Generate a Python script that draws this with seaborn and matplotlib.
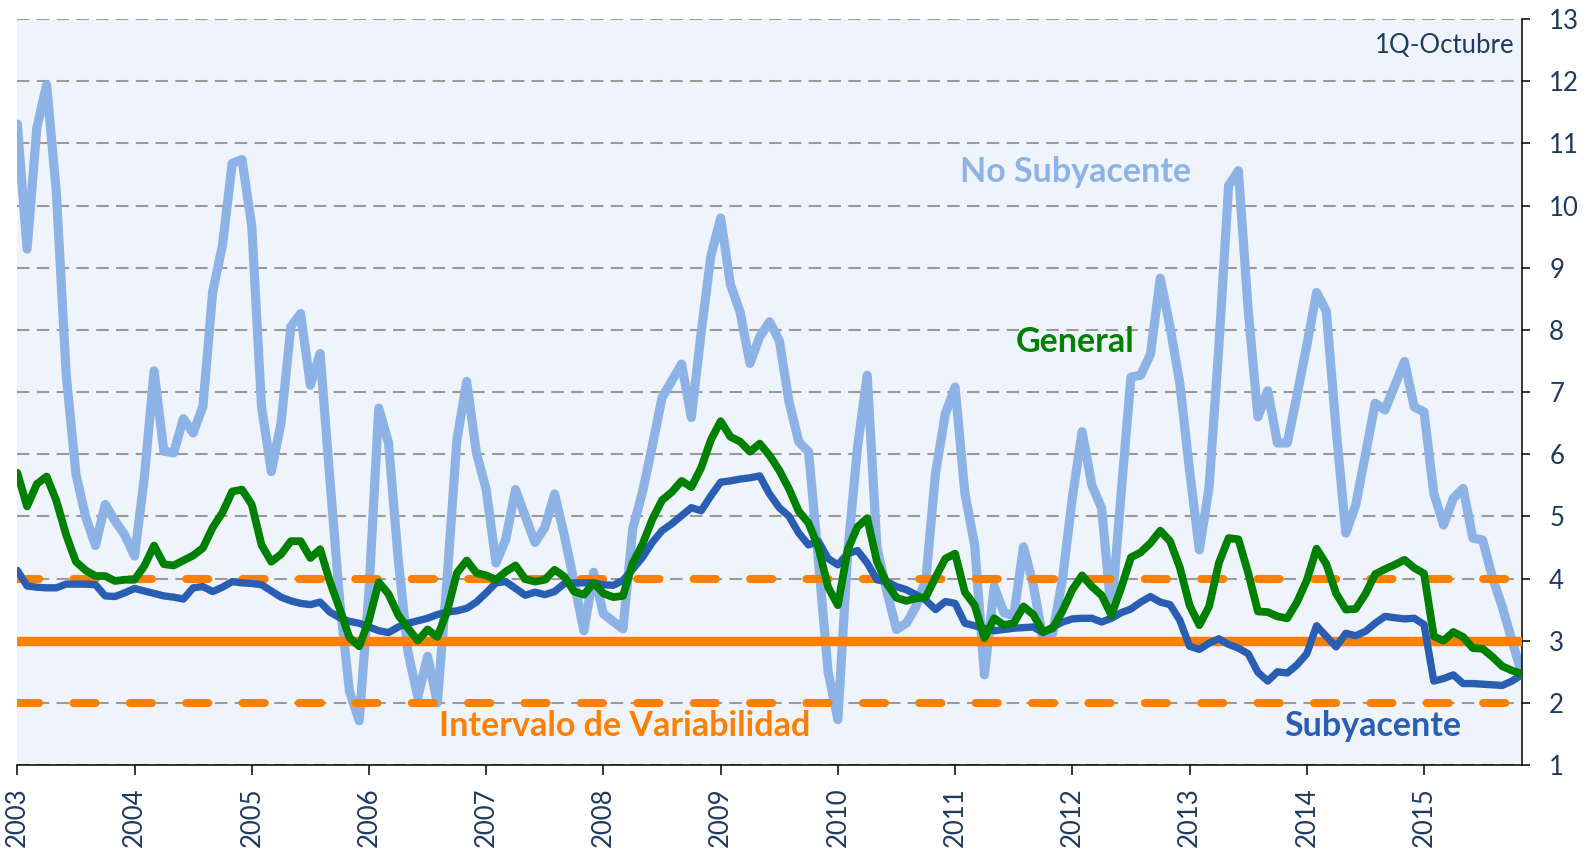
import numpy as np
import pandas as pd
import seaborn as sns
import matplotlib.pyplot as plt


# -----------------------------
# DATA  (annual inflation, %, dic-2002 .. 1Q oct-2015)
# -----------------------------
general = [
    5.70,
    5.16, 5.52, 5.64, 5.25, 4.70, 4.27, 4.13, 4.04, 4.04, 3.96, 3.98, 3.98,
    4.20, 4.53, 4.23, 4.21, 4.29, 4.37, 4.49, 4.82, 5.06, 5.40, 5.43, 5.19,
    4.54, 4.27, 4.39, 4.60, 4.60, 4.33, 4.47, 3.95, 3.51, 3.05, 2.91, 3.33,
    3.94, 3.75, 3.41, 3.20, 3.00, 3.18, 3.06, 3.47, 4.09, 4.29, 4.09, 4.05,
    3.98, 4.11, 4.21, 3.99, 3.95, 3.98, 4.14, 4.03, 3.79, 3.74, 3.93, 3.76,
    3.70, 3.72, 4.25, 4.55, 4.95, 5.26, 5.39, 5.57, 5.47, 5.78, 6.23, 6.53,
    6.28, 6.20, 6.04, 6.17, 5.98, 5.74, 5.44, 5.08, 4.89, 4.50, 3.86, 3.57,
    4.46, 4.83, 4.97, 4.27, 3.92, 3.69, 3.64, 3.68, 3.70, 4.02, 4.32, 4.40,
    3.78, 3.57, 3.04, 3.36, 3.25, 3.28, 3.55, 3.42, 3.14, 3.20, 3.48, 3.82,
    4.05, 3.87, 3.73, 3.41, 3.85, 4.34, 4.42, 4.57, 4.77, 4.60, 4.18, 3.57,
    3.25, 3.55, 4.25, 4.65, 4.63, 4.09, 3.47, 3.46, 3.39, 3.36, 3.62, 3.97,
    4.48, 4.23, 3.76, 3.50, 3.51, 3.75, 4.07, 4.15, 4.22, 4.30, 4.17, 4.08,
    3.07, 3.00, 3.14, 3.06, 2.88, 2.87, 2.74, 2.59, 2.52, 2.47,
]

subyacente = [
    4.13,
    3.88, 3.86, 3.85, 3.85, 3.91, 3.91, 3.91, 3.90, 3.72, 3.71, 3.77, 3.84,
    3.80, 3.76, 3.72, 3.70, 3.67, 3.85, 3.87, 3.79, 3.86, 3.95, 3.93, 3.92,
    3.90, 3.80, 3.70, 3.64, 3.60, 3.58, 3.62, 3.46, 3.37, 3.31, 3.28, 3.22,
    3.16, 3.13, 3.22, 3.28, 3.32, 3.36, 3.42, 3.46, 3.48, 3.52, 3.62, 3.77,
    3.93, 3.95, 3.84, 3.73, 3.78, 3.74, 3.79, 3.92, 3.93, 3.93, 3.93, 3.90,
    3.89, 3.97, 4.15, 4.34, 4.58, 4.77, 4.88, 5.01, 5.14, 5.09, 5.33, 5.55,
    5.57, 5.60, 5.62, 5.65, 5.36, 5.14, 5.00, 4.73, 4.54, 4.60, 4.32, 4.22,
    4.40, 4.45, 4.25, 3.98, 3.95, 3.87, 3.82, 3.74, 3.65, 3.50, 3.63, 3.60,
    3.28, 3.24, 3.20, 3.16, 3.18, 3.20, 3.21, 3.22, 3.13, 3.22, 3.30, 3.35,
    3.36, 3.36, 3.30, 3.36, 3.45, 3.51, 3.62, 3.71, 3.62, 3.58, 3.33, 2.91,
    2.86, 2.96, 3.03, 2.94, 2.88, 2.79, 2.49, 2.35, 2.50, 2.48, 2.61, 2.79,
    3.24, 3.07, 2.90, 3.12, 3.08, 3.15, 3.28, 3.39, 3.37, 3.35, 3.36, 3.26,
    2.35, 2.39, 2.45, 2.31, 2.31, 2.30, 2.29, 2.28, 2.35, 2.45,
]

no_subyacente = [
    11.31,
    9.30, 11.25, 11.94, 10.20, 7.29, 5.68, 4.99, 4.53, 5.19, 4.93, 4.70, 4.36,
    5.62, 7.34, 6.05, 6.02, 6.57, 6.34, 6.77, 8.61, 9.36, 10.68, 10.74, 9.67,
    6.77, 5.72, 6.50, 8.05, 8.26, 7.11, 7.62, 5.59, 3.65, 2.19, 1.71, 3.80,
    6.74, 6.18, 4.30, 2.81, 2.09, 2.75, 2.00, 4.00, 6.23, 7.17, 6.02, 5.43,
    4.25, 4.63, 5.43, 5.00, 4.58, 4.82, 5.36, 4.69, 3.94, 3.16, 4.10, 3.43,
    3.31, 3.19, 4.80, 5.39, 6.13, 6.91, 7.18, 7.45, 6.59, 7.95, 9.19, 9.80,
    8.73, 8.28, 7.46, 7.89, 8.13, 7.83, 6.84, 6.20, 6.04, 4.30, 2.50, 1.73,
    4.40, 6.10, 7.27, 4.50, 3.80, 3.18, 3.28, 3.55, 3.98, 5.70, 6.65, 7.08,
    5.37, 4.54, 2.45, 3.87, 3.45, 3.40, 4.51, 3.90, 3.02, 3.12, 4.00, 5.30,
    6.36, 5.50, 5.13, 3.44, 5.38, 7.24, 7.27, 7.61, 8.83, 8.05, 7.14, 5.74,
    4.46, 5.47, 7.73, 10.32, 10.56, 8.32, 6.60, 7.02, 6.18, 6.18, 6.95, 7.75,
    8.60, 8.30, 6.40, 4.73, 5.18, 5.99, 6.82, 6.71, 7.10, 7.49, 6.76, 6.68,
    5.37, 4.86, 5.29, 5.45, 4.65, 4.62, 4.02, 3.55, 3.00, 2.48,
]

anios = list(range(2003, 2016))
ticks_y = list(range(1, 14))
meta = 3
intervalo = [2, 4]

# month ends: dic-2002 sits on the 2003 tick
meses = pd.period_range("2002-12", "2015-10", freq="M")

df = pd.DataFrame({
    "fecha": meses.year + meses.month / 12,
    "General": general,
    "Subyacente": subyacente,
    "No Subyacente": no_subyacente,
})

# colours
c_nosub = "#8DB3E6"
c_sub = "#2A5EB2"
c_gen = "#008000"
c_meta = "#FF7F00"
c_txt = "#1F3A5F"

# -----------------------------
# PLOT
# -----------------------------
sns.set_theme(style="white")
plt.rcParams["font.family"] = ["Lato", "DejaVu Sans"]

fig = plt.figure(figsize=(15.92, 8.52), dpi=100)
ax = fig.add_axes([0.01087, 0.10211, 0.94497, 0.87559])
ax.set_facecolor("#EFF4FC")

ax.set_axisbelow(True)
ax.yaxis.grid(True, color="#9a9a9a", linewidth=1.5, linestyle=(0, (6, 3.5)))
ax.xaxis.grid(False)

line_kw = dict(solid_joinstyle="round", solid_capstyle="round", legend=False)

sns.lineplot(data=df, x="fecha", y="No Subyacente", ax=ax, color=c_nosub,
             linewidth=6.6, zorder=2, **line_kw)

ax.axhline(meta, color=c_meta, linewidth=6.8, zorder=3)
for nivel in intervalo:
    ax.axhline(nivel, color=c_meta, linewidth=5.8, zorder=3,
               dashes=(2.75, 4.25), dash_capstyle="round")

sns.lineplot(data=df, x="fecha", y="Subyacente", ax=ax, color=c_sub,
             linewidth=5.3, zorder=4, **line_kw)
sns.lineplot(data=df, x="fecha", y="General", ax=ax, color=c_gen,
             linewidth=5.6, zorder=5, **line_kw)

# axes
ax.set_xlim(df["fecha"].iloc[0], df["fecha"].iloc[-1])
ax.set_ylim(ticks_y[0], ticks_y[-1])
ax.set_xticks(anios)
ax.set_xticklabels([str(a) for a in anios])
ax.set_yticks(ticks_y)
ax.yaxis.tick_right()
ax.set_xlabel("")
ax.set_ylabel("")

ax.tick_params(axis="x", bottom=True, direction="out", length=7.2, width=1.1,
               color="black", pad=9, labelsize=18.5, labelcolor=c_txt,
               labelrotation=90)
ax.tick_params(axis="y", left=False, right=True, labelleft=False,
               labelright=True, direction="out", length=5.8, width=1.1,
               color="black", pad=14, labelsize=18.5, labelcolor=c_txt)

for s in ["left", "top"]:
    ax.spines[s].set_visible(False)
for s in ["right", "bottom"]:
    ax.spines[s].set_color("black")
    ax.spines[s].set_linewidth(1.1)

# labels
lbl = dict(ha="center", va="baseline", fontsize=24.5, fontweight="bold")
ax.text(2012.03, 10.38, "No Subyacente", color=c_nosub, **lbl)
ax.text(2012.02, 7.64, "General", color=c_gen, **lbl)
ax.text(2008.18, 1.47, "Intervalo de Variabilidad", color=c_meta, **lbl)
ax.text(2014.56, 1.47, "Subyacente", color=c_sub, **lbl)

ax.text(0.9955, 0.954, "1Q-Octubre", transform=ax.transAxes, ha="right",
        va="baseline", fontsize=18.5, color=c_txt)

fig.savefig("out.png", dpi=100)
